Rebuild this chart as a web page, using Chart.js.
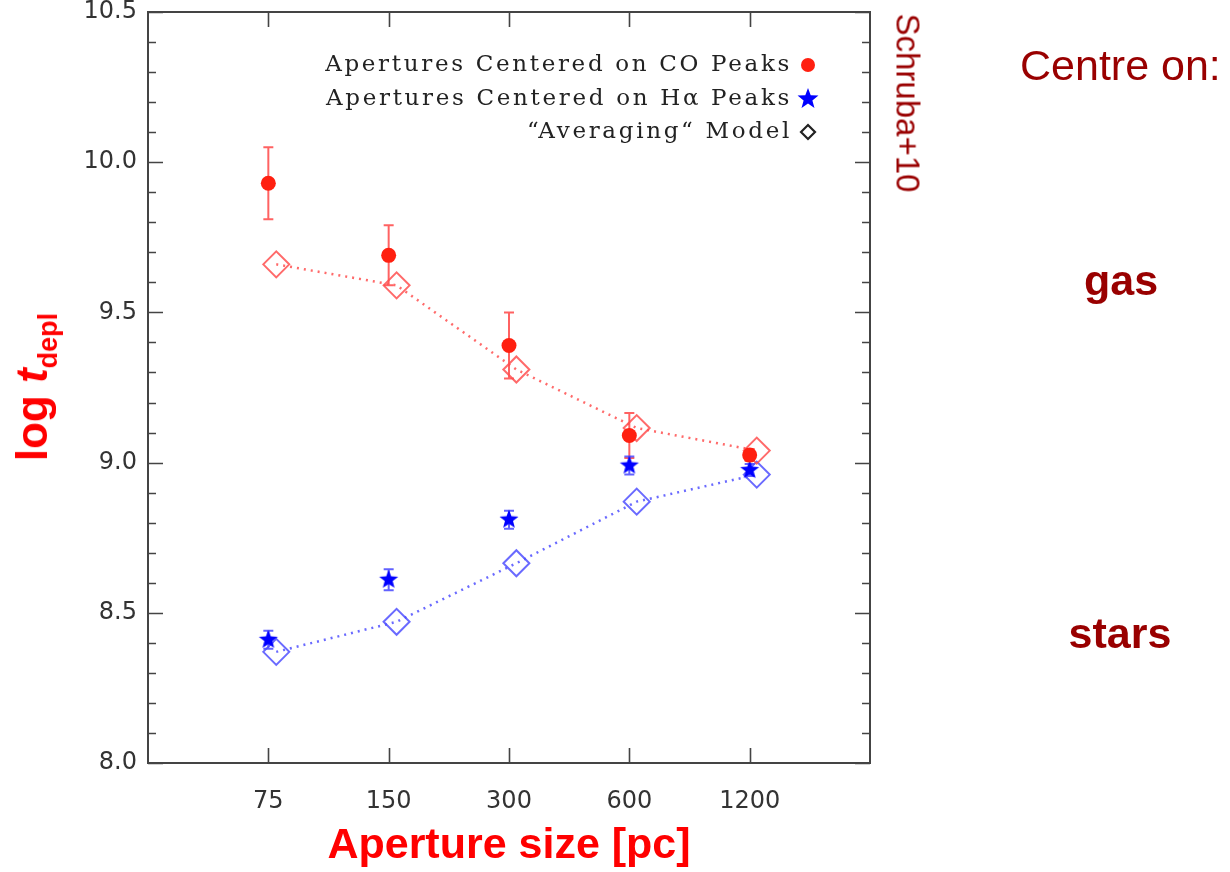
<!DOCTYPE html>
<html><head><meta charset="utf-8">
<script src="https://cdn.jsdelivr.net/npm/chart.js@4/dist/chart.umd.min.js"></script>
<style>
html,body{margin:0;padding:0;background:#fff;}
#wrap{position:relative;width:1230px;height:872px;overflow:hidden;background:#fff;}
#c{position:absolute;left:0;top:0;}
.t{position:absolute;white-space:nowrap;font-family:"Liberation Sans",Arial,sans-serif;color:#990000;line-height:1;}
</style></head><body>
<div id="wrap">
<canvas id="c" width="1230" height="872"></canvas>
<div class="t" style="left:35px;top:387px;transform:translate(-50%,-50%) rotate(-90deg);color:#ff0000;font-weight:bold;font-size:44px;line-height:44px;">log <i>t</i><span style="position:relative;top:10px;font-size:27px;">depl</span></div>
<div class="t" style="left:908px;top:103px;transform:translate(-50%,-50%) rotate(90deg);font-size:33px;line-height:33px;">Schruba+10</div>
<div class="t" style="left:1020px;top:44px;font-size:43px;line-height:43px;">Centre on:</div>
<div class="t" style="left:1121px;top:259px;transform:translateX(-50%);font-size:43px;line-height:43px;font-weight:bold;">gas</div>
<div class="t" style="left:1120px;top:612px;transform:translateX(-50%);font-size:43px;line-height:43px;font-weight:bold;">stars</div>
</div>
<script>
// ---- data ----
const apertures   = [75, 150, 300, 600, 1200];
const xTickLabels = ['75', '150', '300', '600', '1200'];
const coLogT      = [9.93, 9.69, 9.39, 9.09, 9.025];
const coErr       = [0.12, 0.10, 0.11, 0.075, 0.02];
const haLogT      = [8.41, 8.61, 8.81, 8.99, 8.975];
const haErr       = [0.03, 0.035, 0.03, 0.03, 0.02];
const modelAp     = [78.5, 157, 313, 626, 1250];
const modelGas    = [9.66, 9.59, 9.31, 9.115, 9.04];
const modelStars  = [8.37, 8.47, 8.665, 8.87, 8.96];
const yTicks      = [8.0, 8.5, 9.0, 9.5, 10.0, 10.5];
const legendLabels = ['Apertures Centered on CO Peaks', 'Apertures Centered on H\u03b1 Peaks', '\u201cAveraging\u201c Model'];

function makeStar(r, color) {
  const c = document.createElement('canvas');
  c.width = c.height = 2 * r + 2;
  const g = c.getContext('2d');
  g.fillStyle = color;
  g.beginPath();
  for (let i = 0; i < 10; i++) {
    const rad = (i % 2 === 0) ? r : r * 0.42;
    const a = -Math.PI / 2 + i * Math.PI / 5;
    const px = r + 1 + rad * Math.cos(a), py = r + 1 + rad * Math.sin(a);
    if (i === 0) g.moveTo(px, py); else g.lineTo(px, py);
  }
  g.closePath(); g.fill();
  return c;
}
const starImg = makeStar(10, '#0000ff');
const starLegend = makeStar(11, '#0000ff');

const pts = (xs, ys) => xs.map((v, i) => ({x: v, y: ys[i]}));

const errorBars = {
  id: 'errorBars',
  beforeDatasetsDraw(chart) {
    const {ctx, scales: {x, y}} = chart;
    const draw = (xs, ys, es, color) => {
      ctx.save();
      ctx.strokeStyle = color; ctx.lineWidth = 2;
      xs.forEach((xv, i) => {
        const px = x.getPixelForValue(xv);
        const t = y.getPixelForValue(ys[i] + es[i]);
        const b = y.getPixelForValue(ys[i] - es[i]);
        ctx.beginPath();
        ctx.moveTo(px, t); ctx.lineTo(px, b);
        ctx.moveTo(px - 5, t); ctx.lineTo(px + 5, t);
        ctx.moveTo(px - 5, b); ctx.lineTo(px + 5, b);
        ctx.stroke();
      });
      ctx.restore();
    };
    draw(apertures, coLogT, coErr, 'rgba(255,70,70,0.85)');
    draw(apertures, haLogT, haErr, 'rgba(70,70,255,0.85)');
  }
};

const frame = {
  id: 'frame',
  afterDatasetsDraw(chart) {
    const {ctx, chartArea: a, scales: {x, y}} = chart;
    ctx.save();
    ctx.strokeStyle = '#444'; ctx.lineWidth = 2;
    ctx.strokeRect(a.left, a.top, a.right - a.left, a.bottom - a.top);
    ctx.lineWidth = 1.6;
    ctx.beginPath();
    apertures.forEach(v => {
      const px = Math.round(x.getPixelForValue(v)) + 0.5;
      ctx.moveTo(px, a.bottom); ctx.lineTo(px, a.bottom - 15);
      ctx.moveTo(px, a.top); ctx.lineTo(px, a.top + 15);
    });
    for (let k = 0; k <= 25; k++) {
      const v = y.min + k * 0.1;
      const py = Math.round(y.getPixelForValue(v)) + 0.5;
      const len = (k % 5 === 0) ? 15 : 8;
      ctx.moveTo(a.left, py); ctx.lineTo(a.left + len, py);
      ctx.moveTo(a.right, py); ctx.lineTo(a.right - len, py);
    }
    ctx.stroke();
    ctx.restore();
  }
};

const legendPlugin = {
  id: 'customLegend',
  afterDraw(chart) {
    const {ctx, chartArea: a} = chart;
    ctx.save();
    ctx.font = '23px "DejaVu Serif"';
    ctx.fillStyle = '#222';
    ctx.textAlign = 'right';
    ctx.textBaseline = 'middle';
    const w0 = ctx.measureText(legendLabels[0]).width;
    const target = 467;
    const sp = (target - w0) / legendLabels[0].length;
    let scaleX = 1;
    if (sp >= 0 && 'letterSpacing' in ctx) ctx.letterSpacing = sp.toFixed(2) + 'px';
    else if (sp < 0) scaleX = target / w0;
    const tx = a.right - 78;
    const rows = [a.top + 53, a.top + 87, a.top + 120];
    legendLabels.forEach((t, i) => {
      ctx.save(); ctx.translate(tx, rows[i]); ctx.scale(scaleX, 1);
      ctx.fillText(t, 0, 0); ctx.restore();
    });
    if ('letterSpacing' in ctx) ctx.letterSpacing = '0px';
    const sx = a.right - 62;
    ctx.fillStyle = '#ff2010';
    ctx.beginPath(); ctx.arc(sx, rows[0], 7, 0, Math.PI * 2); ctx.fill();
    ctx.drawImage(starLegend, sx - starLegend.width / 2, rows[1] - starLegend.height / 2);
    ctx.strokeStyle = '#222'; ctx.lineWidth = 2.2;
    ctx.beginPath();
    ctx.moveTo(sx - 7, rows[2]); ctx.lineTo(sx, rows[2] - 7); ctx.lineTo(sx + 7, rows[2]); ctx.lineTo(sx, rows[2] + 7); ctx.closePath();
    ctx.stroke();
    ctx.restore();
  }
};

new Chart(document.getElementById('c'), {
  type: 'scatter',
  data: {
    datasets: [
      { label: legendLabels[0], data: pts(apertures, coLogT), pointStyle: 'circle', pointRadius: 7.5,
        backgroundColor: '#ff2010', borderColor: '#ff2010', borderWidth: 0, showLine: false, order: 1 },
      { label: legendLabels[1], data: pts(apertures, haLogT), pointStyle: starImg, pointRadius: 10,
        backgroundColor: '#0000ff', borderColor: '#0000ff', showLine: false, order: 2 },
      { label: 'model gas', data: pts(modelAp, modelGas), pointStyle: 'rectRot', pointRadius: 13,
        backgroundColor: 'rgba(0,0,0,0)', borderColor: 'rgba(255,80,80,0.85)', pointBorderColor: 'rgba(255,80,80,0.85)',
        pointBorderWidth: 2, borderWidth: 2.5, borderDash: [2, 5], showLine: true, tension: 0, order: 3 },
      { label: 'model stars', data: pts(modelAp, modelStars), pointStyle: 'rectRot', pointRadius: 13,
        backgroundColor: 'rgba(0,0,0,0)', borderColor: 'rgba(80,80,255,0.85)', pointBorderColor: 'rgba(80,80,255,0.85)',
        pointBorderWidth: 2, borderWidth: 2.5, borderDash: [2, 5], showLine: true, tension: 0, order: 4 }
    ]
  },
  options: {
    responsive: false,
    devicePixelRatio: 1,
    animation: false,
    events: [],
    layout: { padding: { left: 0, top: 12, right: 360, bottom: 0 }, autoPadding: false },
    plugins: { legend: { display: false }, tooltip: { enabled: false }, title: { display: false } },
    scales: {
      x: {
        type: 'logarithmic', min: 37.5, max: 2400, position: 'bottom',
        afterBuildTicks: s => { s.ticks = apertures.map(v => ({value: v})); },
        afterFit: s => { s.height = 109; s.paddingLeft = 0; s.paddingRight = 0; },
        grid: { display: false, drawTicks: false },
        border: { display: false },
        ticks: { autoSkip: false, maxRotation: 0, padding: 24, color: '#333',
          font: { family: 'DejaVu Sans', size: 24 },
          callback: (v, i) => xTickLabels[i] },
        title: { display: true, text: 'Aperture size [pc]', color: '#ff0000',
          font: { family: 'Liberation Sans', size: 43, weight: 'bold' }, padding: { top: 0, bottom: 0 } }
      },
      y: {
        type: 'linear', min: 8, max: 10.5,
        afterBuildTicks: s => { s.ticks = yTicks.map(v => ({value: v})); },
        afterFit: s => { s.width = 148; s.paddingTop = 0; s.paddingBottom = 0; },
        grid: { display: false, drawTicks: false },
        border: { display: false },
        ticks: { padding: 11, color: '#333', font: { family: 'DejaVu Sans', size: 24 },
          callback: v => Number(v).toFixed(1) }
      }
    }
  },
  plugins: [errorBars, frame, legendPlugin]
});
</script>
</body></html>
